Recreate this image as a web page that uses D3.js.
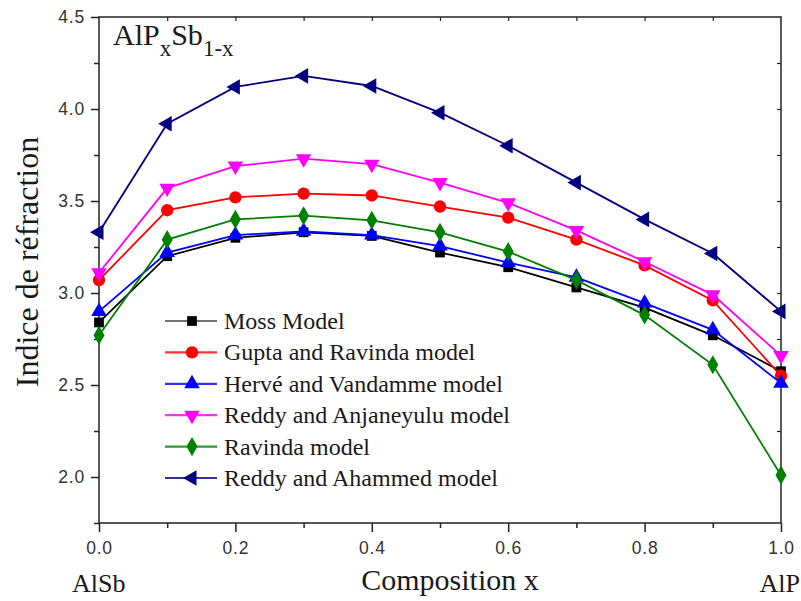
<!DOCTYPE html>
<html><head><meta charset="utf-8">
<script src="https://cdn.jsdelivr.net/npm/d3@7"></script>
<style>body{margin:0;background:#fff}svg{display:block}
.serif{font-family:'Liberation Serif','Times New Roman',serif}
.sans{font-family:'Liberation Sans',Arial,sans-serif}
</style>
</head><body>
<svg id="c" width="801" height="601"></svg>
<script>
const xs = [0,0.1,0.2,0.3,0.4,0.5,0.6,0.7,0.8,0.9,1.0];
const moss    = [2.84,3.20,3.30,3.33,3.31,3.22,3.14,3.03,2.92,2.77,2.575];
const gupta   = [3.07,3.45,3.52,3.54,3.53,3.47,3.41,3.29,3.15,2.96,2.55];
const herve   = [2.90,3.22,3.315,3.335,3.315,3.255,3.165,3.085,2.945,2.80,2.51];
const anjan   = [3.11,3.57,3.69,3.73,3.70,3.60,3.49,3.34,3.17,2.99,2.66];
const ravinda = [2.77,3.29,3.40,3.42,3.395,3.33,3.225,3.07,2.88,2.61,2.01];
const ahammed = [3.33,3.92,4.12,4.18,4.125,3.98,3.80,3.60,3.40,3.215,2.90];
const seriesNames = ["Moss Model","Gupta and Ravinda model","Hervé and Vandamme model","Reddy and Anjaneyulu model","Ravinda model","Reddy and Ahammed model"];
const xTicks = [0,0.2,0.4,0.6,0.8,1.0];
const yTicks = [2.0,2.5,3.0,3.5,4.0,4.5];

const series = [
  {name:seriesNames[0], v:moss,    color:"#000000", sym:"square"},
  {name:seriesNames[1], v:gupta,   color:"#ff0000", sym:"circle"},
  {name:seriesNames[2], v:herve,   color:"#0000ff", sym:"up"},
  {name:seriesNames[3], v:anjan,   color:"#ff00ff", sym:"down"},
  {name:seriesNames[4], v:ravinda, color:"#008000", sym:"diamond"},
  {name:seriesNames[5], v:ahammed, color:"#000080", sym:"left"}
];

const L=99,R=781,T=17,B=523;
const x = d3.scaleLinear().domain([0,1]).range([L,R]);
const y = d3.scaleLinear().domain([1.75,4.5]).range([B,T]);
const svg = d3.select("#c");

function marker(g, sym, color, cx, cy){
  let d, rot = 0;
  if(sym==="square") d = d3.symbol(d3.symbolSquare, 95)();
  else if(sym==="circle") d = d3.symbol(d3.symbolCircle, 120)();
  else if(sym==="diamond") d = d3.symbol(d3.symbolDiamond, 105)();
  else {
    d = d3.symbol(d3.symbolTriangle, 105)();
    rot = sym==="up"?0:(sym==="down"?180:-90);
  }
  g.append("path").attr("d", d).attr("transform", `translate(${cx},${cy}) rotate(${rot})`).attr("fill", color);
}

// frame
svg.append("rect").attr("x",L).attr("y",T).attr("width",R-L).attr("height",B-T)
  .attr("fill","none").attr("stroke","#222").attr("stroke-width",1.5);

// bottom axis
const xAxis = d3.axisBottom(x).tickValues(xTicks).tickFormat(d3.format(".1f")).tickSize(9).tickSizeOuter(0);
const gx = svg.append("g").attr("transform",`translate(0,${B})`).call(xAxis);
gx.select(".domain").remove();
gx.selectAll("line").attr("stroke","#222").attr("stroke-width",1.5);
gx.selectAll("text").attr("class","sans").attr("font-family",null).attr("font-size",17.5).attr("fill","#333")
  .attr("letter-spacing",0.8).attr("y",19);
const xMinor = d3.axisBottom(x).tickValues([0.1,0.3,0.5,0.7,0.9]).tickSize(5).tickFormat("");
const gxm = svg.append("g").attr("transform",`translate(0,${B})`).call(xMinor);
gxm.select(".domain").remove();
gxm.selectAll("line").attr("stroke","#222").attr("stroke-width",1.5);

// left axis
const yAxis = d3.axisLeft(y).tickValues(yTicks).tickFormat(d3.format(".1f")).tickSize(8).tickSizeOuter(0);
const gy = svg.append("g").attr("transform",`translate(${L},0)`).call(yAxis);
gy.select(".domain").remove();
gy.selectAll("line").attr("stroke","#222").attr("stroke-width",1.5);
gy.selectAll("text").attr("class","sans").attr("font-family",null).attr("font-size",17.5).attr("fill","#333")
  .attr("letter-spacing",0.8).attr("x",-14);
const yMinor = d3.axisLeft(y).tickValues([1.75,2.25,2.75,3.25,3.75,4.25]).tickSize(5).tickFormat("");
const gym = svg.append("g").attr("transform",`translate(${L},0)`).call(yMinor);
gym.select(".domain").remove();
gym.selectAll("line").attr("stroke","#222").attr("stroke-width",1.5);

// top & right inward ticks
const topAx = d3.axisBottom(x).tickValues(xs.slice(1,10)).tickSize(4).tickFormat("");
const gt = svg.append("g").attr("transform",`translate(0,${T})`).call(topAx);
gt.select(".domain").remove();
gt.selectAll("line").attr("stroke","#222").attr("stroke-width",1.2);
const rightAx = d3.axisLeft(y).tickValues([2.0,2.25,2.5,2.75,3.0,3.25,3.5,3.75,4.0,4.25]).tickSize(4).tickFormat("");
const gr = svg.append("g").attr("transform",`translate(${R},0)`).call(rightAx);
gr.select(".domain").remove();
gr.selectAll("line").attr("stroke","#222").attr("stroke-width",1.2);

// series
const line = d3.line().x((d,i)=>x(xs[i])).y(d=>y(d));
series.forEach(s=>{
  const g = svg.append("g");
  g.append("path").attr("d", line(s.v)).attr("fill","none").attr("stroke",s.color).attr("stroke-width",1.8);
  s.v.forEach((v,i)=>marker(g, s.sym, s.color, x(xs[i]), y(v)));
});

// legend
const lg = svg.append("g");
series.forEach((s,i)=>{
  const yy = 321 + i*31.4;
  lg.append("line").attr("x1",165).attr("x2",217).attr("y1",yy).attr("y2",yy)
    .attr("stroke", s.color).attr("stroke-width",2.2).attr("opacity", s.color==="#000000"?0.55:0.8);
  marker(lg, s.sym, s.color, 192, yy);
  lg.append("text").attr("class","serif").attr("x",224).attr("y",yy+8).text(s.name)
    .attr("font-size",24).attr("fill","#1a1a1a");
});

// title
const tt = svg.append("text").attr("class","serif").attr("x",113).attr("y",45)
  .attr("font-size",30).attr("fill","#1a1a1a");
tt.append("tspan").text("AlP");
tt.append("tspan").text("x").attr("font-size",23).attr("dy",11);
tt.append("tspan").text("Sb").attr("dy",-11);
tt.append("tspan").text("1-x").attr("font-size",23).attr("dy",11);

// axis titles
svg.append("text").attr("class","serif").attr("transform","translate(38,262) rotate(-90)").attr("text-anchor","middle")
  .attr("font-size",32).attr("fill","#1a1a1a")
  .text("Indice de réfraction");
svg.append("text").attr("class","serif").attr("x",450).attr("y",590).attr("text-anchor","middle")
  .attr("font-size",30).attr("fill","#1a1a1a")
  .text("Composition x");
svg.append("text").attr("class","serif").attr("x",72).attr("y",592)
  .attr("font-size",26).attr("fill","#1a1a1a")
  .text("AlSb");
svg.append("text").attr("class","serif").attr("x",800).attr("y",592).attr("text-anchor","end")
  .attr("font-size",26).attr("fill","#1a1a1a")
  .text("AlP");
</script>
</body></html>
